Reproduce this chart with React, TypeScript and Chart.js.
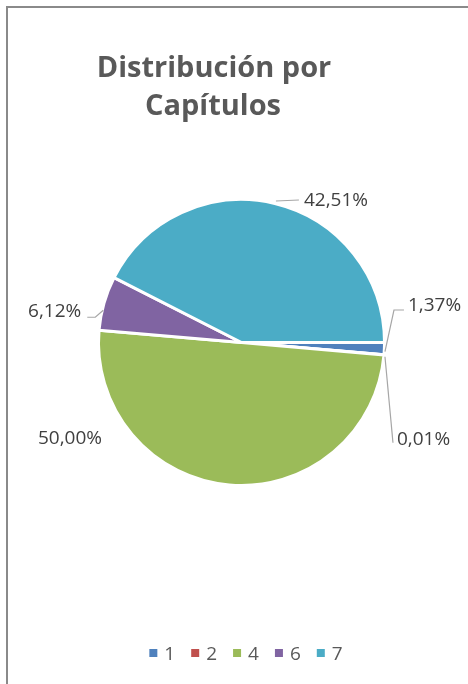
import React, { useEffect, useRef } from "react";
import { Chart, registerables } from "chart.js";

Chart.register(...registerables);

// ---- data ----
const categories = ["1", "2", "4", "6", "7"];
const shares = [1.37, 0.01, 50.0, 6.12, 42.51];
const valueLabels = ["1,37%", "0,01%", "50,00%", "6,12%", "42,51%"];
const sliceColors = ["#4F81BD", "#C0504D", "#9BBB59", "#8064A2", "#4BACC6"];
const titleLines = ["Distribución por", "Capítulos"];

// ---- label placement, relative to each slice's outer-arc midpoint ----
type Placement = { dx: number; dy: number; align: CanvasTextAlign; leader: number[][] };
const labelPlacement: Placement[] = [
  { dx: 24.6, dy: -37.6, align: "left", leader: [[1.6, 3], [10.6, -38.6], [20.6, -38.6]] },
  { dx: 14, dy: 90, align: "left", leader: [[2, 2], [10, 88]] },
  { dx: -191.3, dy: -40, align: "left", leader: [] },
  { dx: -23.7, dy: 13.8, align: "right", leader: [[-1.7, 6.8], [-9.7, 13.8], [-17.7, 13.8]] },
  { dx: 29.3, dy: 1.6, align: "left", leader: [[1.3, -3.4], [24.3, -4.4]] },
];

const FONT = "'Open Sans', 'Liberation Sans', sans-serif";

const decorPlugin = {
  id: "excelDecor",
  afterDatasetsDraw(chart: any) {
    const ctx: CanvasRenderingContext2D = chart.ctx;
    const meta = chart.getDatasetMeta(0);
    ctx.save();
    meta.data.forEach((arc: any, i: number) => {
      const { x, y, startAngle, endAngle, outerRadius } = arc.getProps(
        ["x", "y", "startAngle", "endAngle", "outerRadius"],
        true
      );
      const mid = (startAngle + endAngle) / 2;
      const r = outerRadius - 1;
      const mx = x + Math.cos(mid) * r;
      const my = y + Math.sin(mid) * r;
      const p = labelPlacement[i];
      if (p.leader.length > 1) {
        ctx.beginPath();
        ctx.strokeStyle = "#A6A6A6";
        ctx.lineWidth = 1.2;
        p.leader.forEach((pt, k) => {
          if (k === 0) ctx.moveTo(mx + pt[0], my + pt[1]);
          else ctx.lineTo(mx + pt[0], my + pt[1]);
        });
        ctx.stroke();
      }
      ctx.font = `19px ${FONT}`;
      ctx.fillStyle = "#404040";
      ctx.textAlign = p.align;
      ctx.textBaseline = "alphabetic";
      ctx.fillText(valueLabels[i], mx + p.dx, my + p.dy);
    });
    ctx.restore();
  },
  afterDraw(chart: any) {
    const ctx: CanvasRenderingContext2D = chart.ctx;
    ctx.save();
    // title
    ctx.font = `bold 29px ${FONT}`;
    ctx.fillStyle = "#595959";
    ctx.textAlign = "center";
    ctx.textBaseline = "alphabetic";
    ctx.fillText(titleLines[0], 214, 77);
    ctx.fillText(titleLines[1], 213, 115);

    // legend
    ctx.font = `19px ${FONT}`;
    const box = 8;
    const gap = 7;
    const spacing = 16;
    const widths = categories.map((c) => ctx.measureText(c).width);
    const total =
      widths.reduce((s, w) => s + box + gap + w, 0) + spacing * (categories.length - 1);
    let cx = 246 - total / 2;
    const cy = 653;
    ctx.textAlign = "left";
    categories.forEach((c, i) => {
      ctx.fillStyle = sliceColors[i];
      ctx.fillRect(cx, cy - box / 2, box, box);
      ctx.fillStyle = "#595959";
      ctx.fillText(c, cx + box + gap, cy + 6.5);
      cx += box + gap + widths[i] + spacing;
    });
    ctx.restore();
  },
};

export default function App() {
  const canvasRef = useRef<HTMLCanvasElement | null>(null);

  useEffect(() => {
    if (!canvasRef.current) return;
    const chart = new Chart(canvasRef.current, {
      type: "pie",
      data: {
        labels: categories,
        datasets: [
          {
            data: shares,
            backgroundColor: sliceColors,
            borderColor: "#FFFFFF",
            borderWidth: 3,
            hoverOffset: 0,
          },
        ],
      },
      options: {
        responsive: false,
        animation: false,
        rotation: 90,
        radius: 143,
        layout: { padding: { left: 97, right: 82, top: 199, bottom: 198 } },
        plugins: {
          legend: { display: false },
          title: { display: false },
          tooltip: { enabled: false },
        },
        events: [],
      },
      plugins: [decorPlugin],
    });
    return () => chart.destroy();
  }, []);

  return (
    <div
      style={{
        position: "fixed",
        left: 0,
        top: 0,
        width: 468,
        height: 684,
        background: "#FFFFFF",
        overflow: "hidden",
      }}
    >
      <div
        style={{
          position: "absolute",
          left: 6,
          top: 6,
          width: 520,
          height: 720,
          border: "2px solid #8A8A8A",
          boxSizing: "border-box",
        }}
      />
      <canvas
        ref={canvasRef}
        width={468}
        height={684}
        style={{ position: "absolute", left: 0, top: 0, width: 468, height: 684 }}
      />
    </div>
  );
}
